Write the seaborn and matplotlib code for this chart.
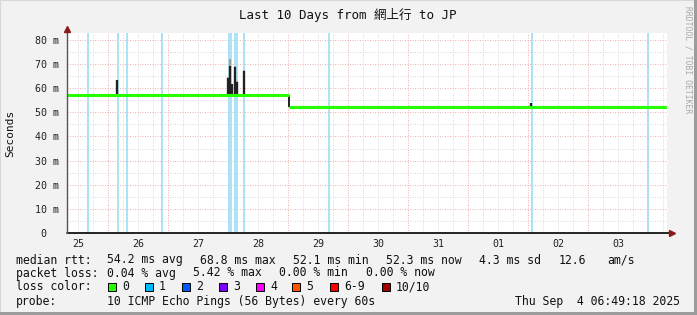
import numpy as np
import pandas as pd
import matplotlib
matplotlib.use("Agg")
import matplotlib.pyplot as plt
from matplotlib.patches import Rectangle
import seaborn as sns

sns.set_style("white")
plt.rcParams['font.family'] = ['DejaVu Sans Mono', 'Noto Sans CJK SC']

W, H = 697, 315

# ---------------- data (x = days since Aug 25 00:00) ----------------
x_start, x_end = 0.3167, 10.3167
day_labels = ["25", "26", "27", "28", "29", "30", "31", "01", "02", "03"]

# median rtt (ms): two segments (before / after the route change)
median_day = [0.3167, 4.000, 4.030, 10.3167]
median_ms = [57.1, 57.1, 52.3, 52.3]
median_seg = [0, 0, 1, 1]

# smoke spikes: time, top of dark smoke, top of light smoke (ms)
spike_day = [1.150, 3.008, 3.033, 3.067, 3.120, 3.142, 3.262, 8.050]
spike_top = [63.4, 64.2, 69.2, 61.6, 68.9, 62.7, 67.1, 53.8]
spike_light = [63.6, 64.6, 72.1, 61.8, 69.4, 63.0, 67.4, 54.0]

# samples with 1/10 loss
loss_day = [0.672, 1.162, 1.322, 1.905, 3.022, 3.055, 3.117, 3.142, 3.272,
            4.688, 8.072, 9.995]

loss_labels = ["0", "1", "2", "3", "4", "5", "6-9", "10/10"]
loss_colors = ["#26ff00", "#00b8ff", "#0059ff", "#7e00ff", "#ff00ff",
               "#ff5500", "#ff0000", "#a10000"]

# ---------------- figure ----------------
fig = plt.figure(figsize=(W / 100, H / 100), dpi=100, facecolor="#f2f2f2")

def fx(px):
    return px / W

def fy(py):
    return 1 - py / H

ax_l, ax_r, ax_t, ax_b = 67, 667, 33, 233
ax = fig.add_axes([fx(ax_l), fy(ax_b), (ax_r - ax_l) / W, (ax_b - ax_t) / H])
ax.set_facecolor("white")
ymax = 82.9
ax.set_xlim(x_start, x_end)
ax.set_ylim(0, ymax)
for s in ax.spines.values():
    s.set_visible(False)

# grid
dot = (0, (1, 1.5))
minor_c, major_c = "#dadada", "#eeb4b4"
for h in np.arange(0, 11, 0.25):
    if x_start < h < x_end and abs(h - round(h)) > 1e-6:
        ax.axvline(h, color=minor_c, lw=0.72, ls=dot, zorder=0)
for h in range(1, 11):
    ax.axvline(h, color=major_c, lw=0.72, ls=dot, zorder=0.5)
for v in np.arange(5, 85, 10):
    ax.axhline(v, color=minor_c, lw=0.72, ls=dot, zorder=0)
for v in range(10, 81, 10):
    ax.axhline(v, color=major_c, lw=0.72, ls=dot, zorder=0.5)

# loss lines (full height)
for d in loss_day:
    ax.axvline(d, color="#a6e0f6", lw=1.3, zorder=1)

# smoke spikes
base = [median_ms[0] if d < 4 else median_ms[-1] for d in spike_day]
ax.vlines(spike_day, base, spike_light, color="#a0a0a0", lw=1.6, zorder=2)
ax.vlines(spike_day, base, spike_top, color="#222222", lw=1.6, zorder=2.5)
ax.vlines([4.015], [52.3], [57.1], color="#222222", lw=1.4, zorder=2.5)

# median line
df = pd.DataFrame({"day": median_day, "ms": median_ms, "seg": median_seg})
sns.lineplot(data=df, x="day", y="ms", units="seg", estimator=None,
             color="#26ff00", lw=2.2, ax=ax, zorder=3)
ax.set_xlabel("")
ax.set_ylabel("")

# axes lines with arrows
ax.plot([x_start, x_end + 0.07], [0, 0], color="black", lw=1.2, clip_on=False, zorder=5)
ax.plot([x_start, x_start], [0, ymax + 1.5], color="#555555", lw=1.0, clip_on=False, zorder=5)
ax.plot([x_end + 0.09], [0], marker=">", color="#8b1a1a", ms=4.5, clip_on=False, zorder=6)
ax.plot([x_start], [ymax + 1.8], marker="^", color="#8b1a1a", ms=4.5, clip_on=False, zorder=6)

# ticks
ax.set_xticks(np.arange(0.5, 10.5, 1.0), labels=day_labels)
ax.set_yticks(range(0, 81, 10),
              labels=[" 0  "] + [f"{v} m" for v in range(10, 81, 10)])
ax.tick_params(axis="x", length=0, pad=4, labelsize=7.2, colors="#222222")
ax.tick_params(axis="y", length=0, pad=6, labelsize=7.2, colors="#222222")

# title and side labels
fig.text(fx(348), fy(15), "Last 10 Days from 網上行 to JP", ha="center", va="center",
         fontsize=9, color="#111111", family=["DejaVu Sans Mono", "Noto Sans CJK SC"])
fig.text(fx(10), fy(133), "Seconds", rotation=90, ha="center", va="center",
         fontsize=8, color="#111111")
fig.text(fx(688), fy(60), "RRDTOOL / TOBI OETIKER", rotation=270, ha="center",
         va="center", fontsize=5.8, color="#a8a8a8")

# legend
fs = 8.3
def t(px, py, s, **kw):
    fig.text(fx(px), fy(py), s, ha=kw.pop("ha", "left"), va="center",
             fontsize=fs, color="#111111", **kw)

y1, y2, y3, y4 = 260, 273, 287, 301
t(16, y1, "median rtt:")
t(107, y1, "54.2 ms avg")
t(200, y1, "68.8 ms max")
t(293, y1, "52.1 ms min")
t(386, y1, "52.3 ms now")
t(479, y1, "4.3 ms sd")
t(559, y1, "12.6")
t(607, y1, "am/s")

t(16, y2, "packet loss:")
t(107, y2, "0.04 % avg")
t(193, y2, "5.42 % max")
t(279, y2, "0.00 % min")
t(366, y2, "0.00 % now")

t(16, y3, "loss color:")
sw_x = [108, 145, 182, 219, 256, 292, 330, 382]
for sx, lab, col in zip(sw_x, loss_labels, loss_colors):
    fig.patches.append(Rectangle((fx(sx), fy(y3 + 4)), 8 / W, 8 / H,
                                 transform=fig.transFigure, facecolor=col,
                                 edgecolor="black", lw=0.7))
    t(sx + 14, y3, lab)

t(16, y4, "probe:")
t(107, y4, "10 ICMP Echo Pings (56 Bytes) every 60s")
t(680, y4, "Thu Sep  4 06:49:18 2025", ha="right")

# outer frame
fig.patches.append(Rectangle((0, 0), 1, 1, transform=fig.transFigure, fill=False,
                             edgecolor="#d8d8d8", lw=1.5))
fig.patches.append(Rectangle((1 - 3 / W, 0), 3 / W, 1, transform=fig.transFigure,
                             facecolor="#9c9c9c", edgecolor="none"))
fig.patches.append(Rectangle((0, 0), 1, 3 / H, transform=fig.transFigure,
                             facecolor="#9c9c9c", edgecolor="none"))

fig.savefig("out.png", dpi=100, facecolor=fig.get_facecolor())
